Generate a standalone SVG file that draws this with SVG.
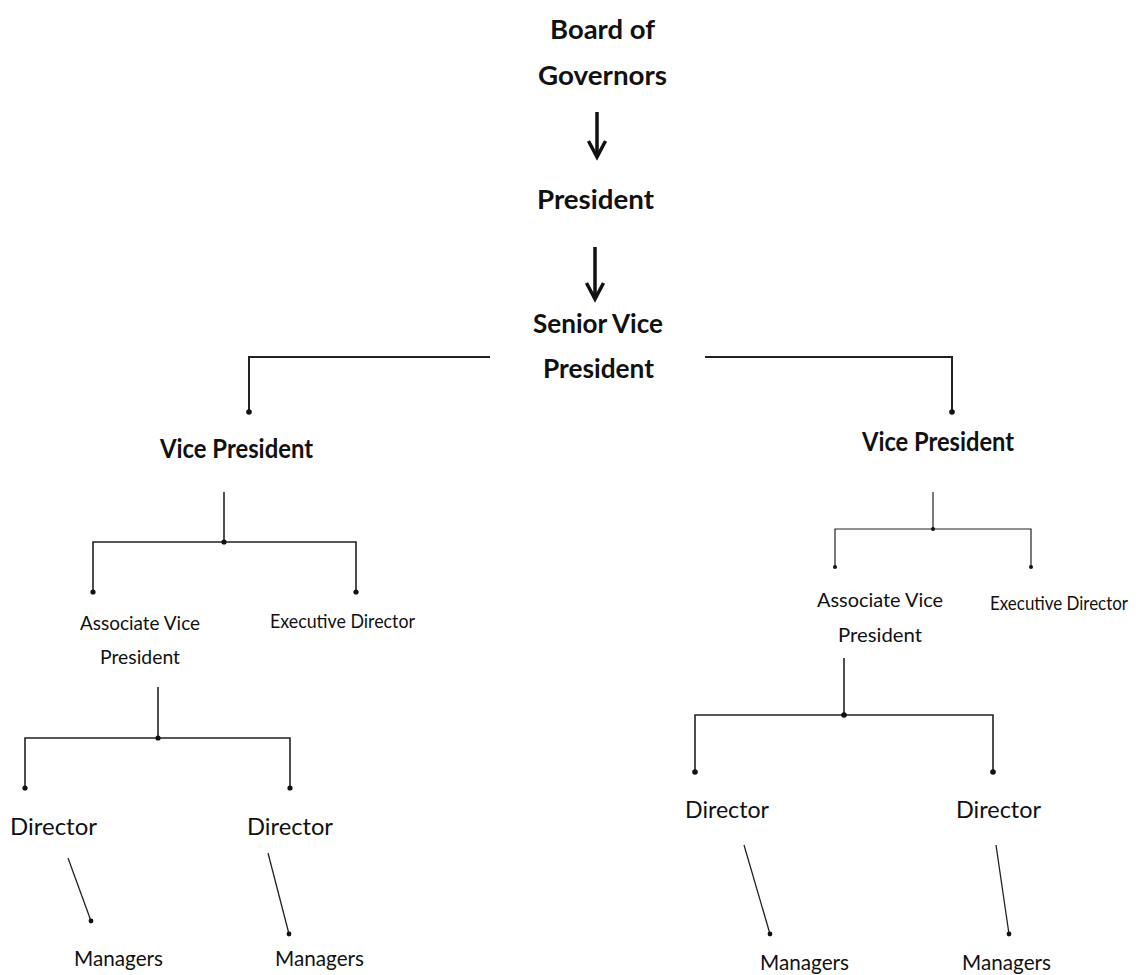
<svg xmlns="http://www.w3.org/2000/svg" width="1143" height="975" viewBox="0 0 1143 975">
<style>
text{font-family:Lato,"Liberation Sans",sans-serif;fill:#111}
.b{font-weight:bold;font-size:26px}
.s{font-size:19px}
.d{font-size:24px}
.m{font-size:21px}
.ln{stroke:#222;stroke-width:1.6;fill:none}
.arr{stroke:#111;stroke-width:3.5;fill:none;stroke-linecap:butt}
.dot{fill:#111}
</style>
<rect width="1143" height="975" fill="#fff"/>
<g id="connectors">
<line class="arr" x1="597" y1="112" x2="597" y2="156"/>
<polyline class="arr" points="588.5,141 597,157 605.5,141"/>
<line class="arr" x1="595" y1="247" x2="595" y2="298"/>
<polyline class="arr" points="586.5,283 595,299 603.5,283"/>
<polyline class="ln" style="stroke-width:2" points="490,357 249,357 249,412"/>
<circle class="dot" cx="249" cy="412" r="2.8"/>
<polyline class="ln" style="stroke-width:2" points="705,357 952,357 952,412"/>
<circle class="dot" cx="952" cy="412" r="2.8"/>
<line class="ln" x1="224" y1="492" x2="224" y2="542"/>
<polyline class="ln" points="93,592 93,542 356,542 356,592"/>
<circle class="dot" cx="224" cy="542" r="2.6"/>
<circle class="dot" cx="93" cy="592" r="2.6"/>
<circle class="dot" cx="356" cy="592" r="2.6"/>
<line class="ln" style="stroke-width:1.2" x1="933" y1="492" x2="933" y2="529"/>
<polyline class="ln" style="stroke-width:1.2" points="835,567 835,529 1031,529 1031,567"/>
<circle class="dot" cx="933" cy="529" r="2"/>
<circle class="dot" cx="835" cy="567" r="2"/>
<circle class="dot" cx="1031" cy="567" r="2"/>
<line class="ln" x1="158" y1="687" x2="158" y2="738"/>
<polyline class="ln" points="25,788 25,738 290,738 290,788"/>
<circle class="dot" cx="158" cy="738" r="2.6"/>
<circle class="dot" cx="25" cy="788" r="2.6"/>
<circle class="dot" cx="290" cy="788" r="2.6"/>
<line class="ln" x1="844" y1="658" x2="844" y2="715"/>
<polyline class="ln" points="695,772 695,715 993,715 993,772"/>
<circle class="dot" cx="844" cy="715" r="2.8"/>
<circle class="dot" cx="695" cy="772" r="2.8"/>
<circle class="dot" cx="993" cy="772" r="2.8"/>
<line class="ln" style="stroke-width:1.3" x1="68" y1="858" x2="91" y2="921"/>
<circle class="dot" cx="91" cy="921" r="2.4"/>
<line class="ln" style="stroke-width:1.3" x1="268" y1="853" x2="289" y2="934"/>
<circle class="dot" cx="289" cy="934" r="2.4"/>
<line class="ln" style="stroke-width:1.3" x1="744" y1="845" x2="770" y2="934"/>
<circle class="dot" cx="770" cy="934" r="2.4"/>
<line class="ln" style="stroke-width:1.3" x1="996" y1="845" x2="1009" y2="934"/>
<circle class="dot" cx="1009" cy="934" r="2.4"/>
</g>
<g id="board"><text class="b" x="550" y="39" textLength="105" lengthAdjust="spacingAndGlyphs">Board of</text><text class="b" x="538" y="85" textLength="129" lengthAdjust="spacingAndGlyphs">Governors</text></g>
<g id="president"><text class="b" x="537" y="209" textLength="117" lengthAdjust="spacingAndGlyphs">President</text></g>
<g id="svp"><text class="b" x="533" y="333" textLength="130" lengthAdjust="spacingAndGlyphs">Senior Vice</text><text class="b" x="543" y="378" textLength="111" lengthAdjust="spacingAndGlyphs">President</text></g>
<g id="vp-left"><text class="b" x="160" y="458" textLength="153" lengthAdjust="spacingAndGlyphs">Vice President</text></g>
<g id="vp-right"><text class="b" x="862" y="451" textLength="152" lengthAdjust="spacingAndGlyphs">Vice President</text></g>
<g id="avp-left"><text class="s" x="80" y="630" textLength="120" lengthAdjust="spacingAndGlyphs">Associate Vice</text><text class="s" x="100" y="664" textLength="80" lengthAdjust="spacingAndGlyphs">President</text></g>
<g id="ed-left"><text class="s" x="270" y="628" textLength="145" lengthAdjust="spacingAndGlyphs">Executive Director</text></g>
<g id="avp-right"><text class="s" x="817" y="607" textLength="126" lengthAdjust="spacingAndGlyphs">Associate Vice</text><text class="s" x="838" y="642" textLength="84" lengthAdjust="spacingAndGlyphs">President</text></g>
<g id="ed-right"><text class="s" x="990" y="610" textLength="138" lengthAdjust="spacingAndGlyphs">Executive Director</text></g>
<g id="dir-l1"><text class="d" x="10" y="835" textLength="87" lengthAdjust="spacingAndGlyphs">Director</text></g>
<g id="dir-l2"><text class="d" x="247" y="835" textLength="86" lengthAdjust="spacingAndGlyphs">Director</text></g>
<g id="dir-r1"><text class="d" x="685" y="818" textLength="84" lengthAdjust="spacingAndGlyphs">Director</text></g>
<g id="dir-r2"><text class="d" x="956" y="818" textLength="85" lengthAdjust="spacingAndGlyphs">Director</text></g>
<g id="mgr-l1"><text class="m" x="74" y="966" textLength="89" lengthAdjust="spacingAndGlyphs">Managers</text></g>
<g id="mgr-l2"><text class="m" x="275" y="966" textLength="89" lengthAdjust="spacingAndGlyphs">Managers</text></g>
<g id="mgr-r1"><text class="m" x="760" y="970" textLength="89" lengthAdjust="spacingAndGlyphs">Managers</text></g>
<g id="mgr-r2"><text class="m" x="962" y="970" textLength="89" lengthAdjust="spacingAndGlyphs">Managers</text></g>
</svg>
